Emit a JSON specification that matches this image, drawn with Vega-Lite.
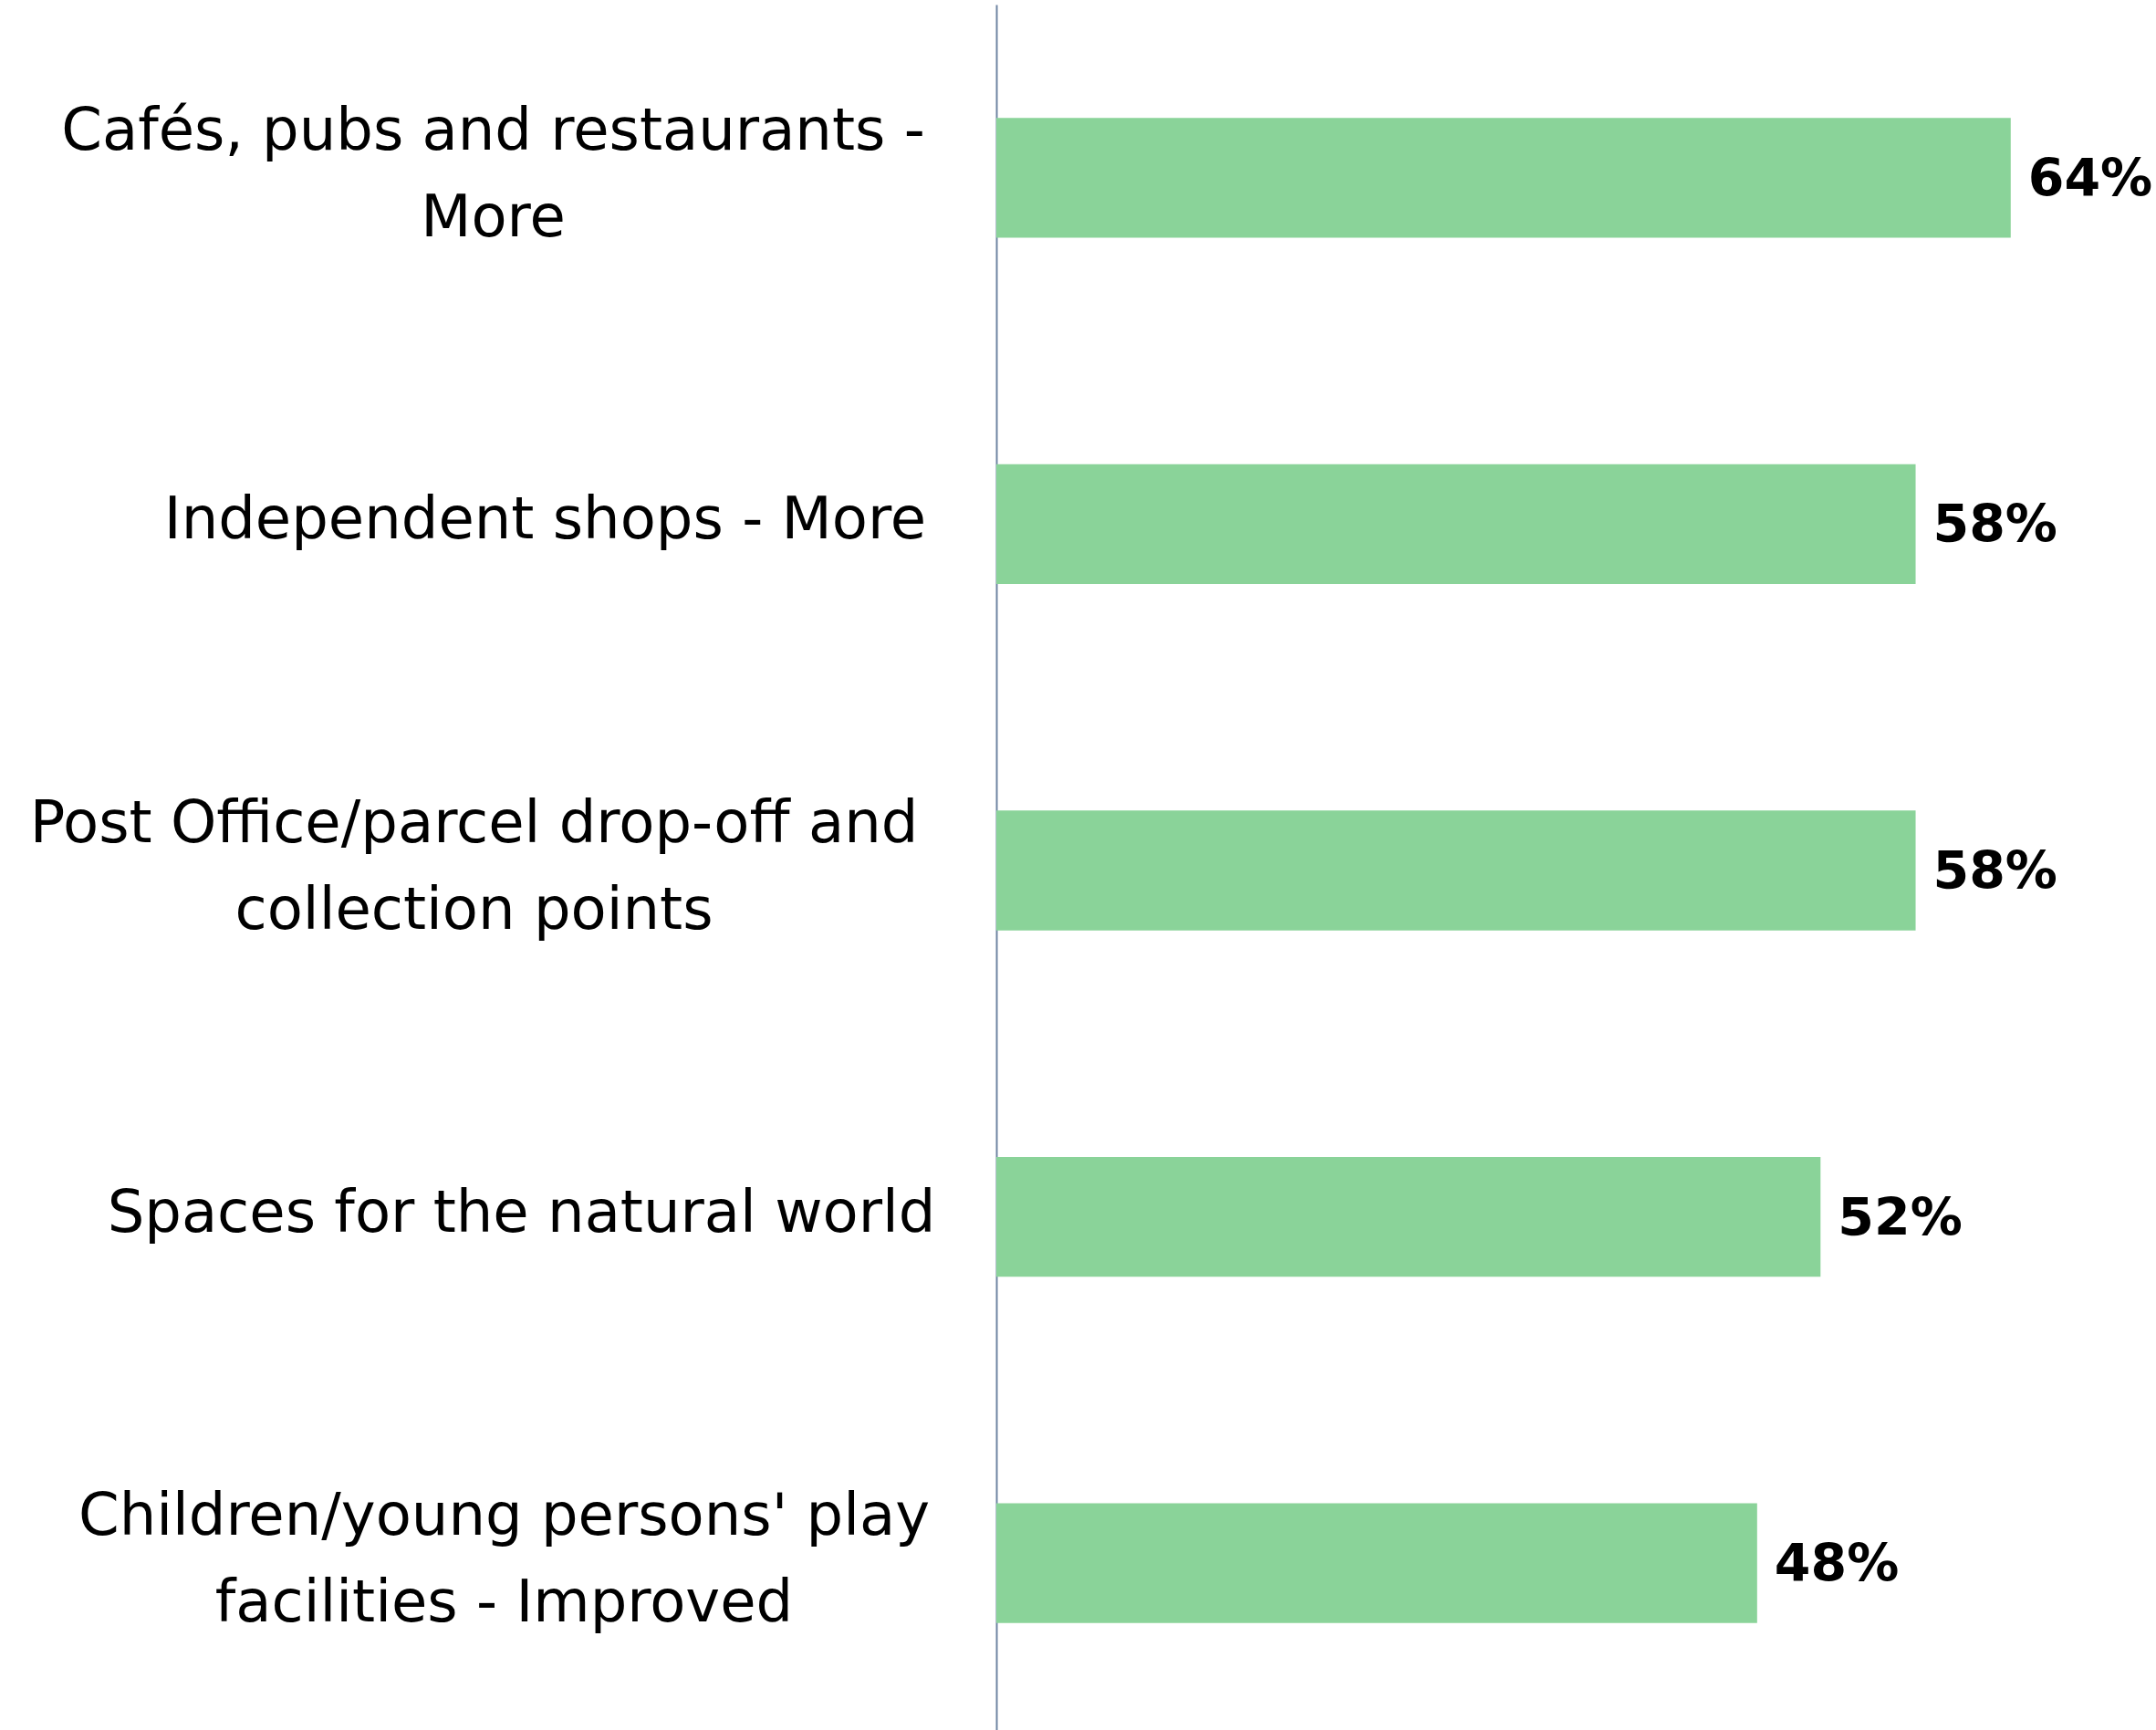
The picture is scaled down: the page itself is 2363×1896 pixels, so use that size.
{
  "$schema": "https://vega.github.io/schema/vega-lite/v6.json",
  "autosize": {"type": "none"},
  "padding": {"left": 1092, "top": 5, "right": 55, "bottom": 0},
  "width": 1216,
  "height": 1898,
  "background": "white",
  "config": {"view": {"stroke": null}},
  "data": {
    "values": [
      {"item": "Cafés, pubs and restaurants - More", "share": 0.64},
      {"item": "Independent shops - More", "share": 0.58},
      {"item": "Post Office/parcel drop-off and collection points", "share": 0.58},
      {"item": "Spaces for the natural world", "share": 0.52},
      {"item": "Children/young persons' play facilities - Improved", "share": 0.48}
    ]
  },
  "encoding": {
    "y": {
      "field": "item",
      "type": "nominal",
      "sort": null,
      "scale": {"paddingInner": 0.654, "paddingOuter": 0.327},
      "axis": {
        "title": null,
        "ticks": false,
        "domain": true,
        "domainColor": "#7085a3",
        "domainWidth": 2,
        "labelFont": "DejaVu Sans",
        "labelFontSize": 64,
        "labelColor": "#000000",
        "labelPadding": {
          "condition": [
            {"test": "datum.value == 'Cafés, pubs and restaurants - More'", "value": 552},
            {"test": "datum.value == 'Post Office/parcel drop-off and collection points'", "value": 573},
            {"test": "datum.value == 'Spaces for the natural world'", "value": 521},
            {"test": "datum.value == \"Children/young persons' play facilities - Improved\"", "value": 540}
          ],
          "value": 495
        },
        "labelOffset": {
          "condition": {"test": "datum.value == 'Independent shops - More' || datum.value == 'Spaces for the natural world'", "value": -3},
          "value": -50
        },
        "labelLimit": 1200,
        "labelLineHeight": 95,
        "labelBaseline": "middle",
        "labelAlign": "center",
        "labelExpr": "datum.value == 'Cafés, pubs and restaurants - More' ? ['Cafés, pubs and restaurants -', 'More'] : datum.value == 'Post Office/parcel drop-off and collection points' ? ['Post Office/parcel drop-off and', 'collection points'] : datum.value == \"Children/young persons' play facilities - Improved\" ? [\"Children/young persons' play\", 'facilities - Improved'] : datum.value"
      }
    },
    "x": {
      "field": "share",
      "type": "quantitative",
      "scale": {"domain": [0, 0.7]},
      "axis": null
    }
  },
  "layer": [
    {"mark": {"type": "bar", "color": "#8ad399"}},
    {
      "mark": {
        "type": "text",
        "align": "left",
        "baseline": "middle",
        "dx": 19,
        "dy": 3,
        "font": "DejaVu Sans",
        "fontWeight": "bold",
        "fontSize": 57,
        "color": "#000000",
        "clip": false
      },
      "encoding": {
        "text": {"field": "share", "type": "quantitative", "format": ".0%"}
      }
    }
  ]
}
